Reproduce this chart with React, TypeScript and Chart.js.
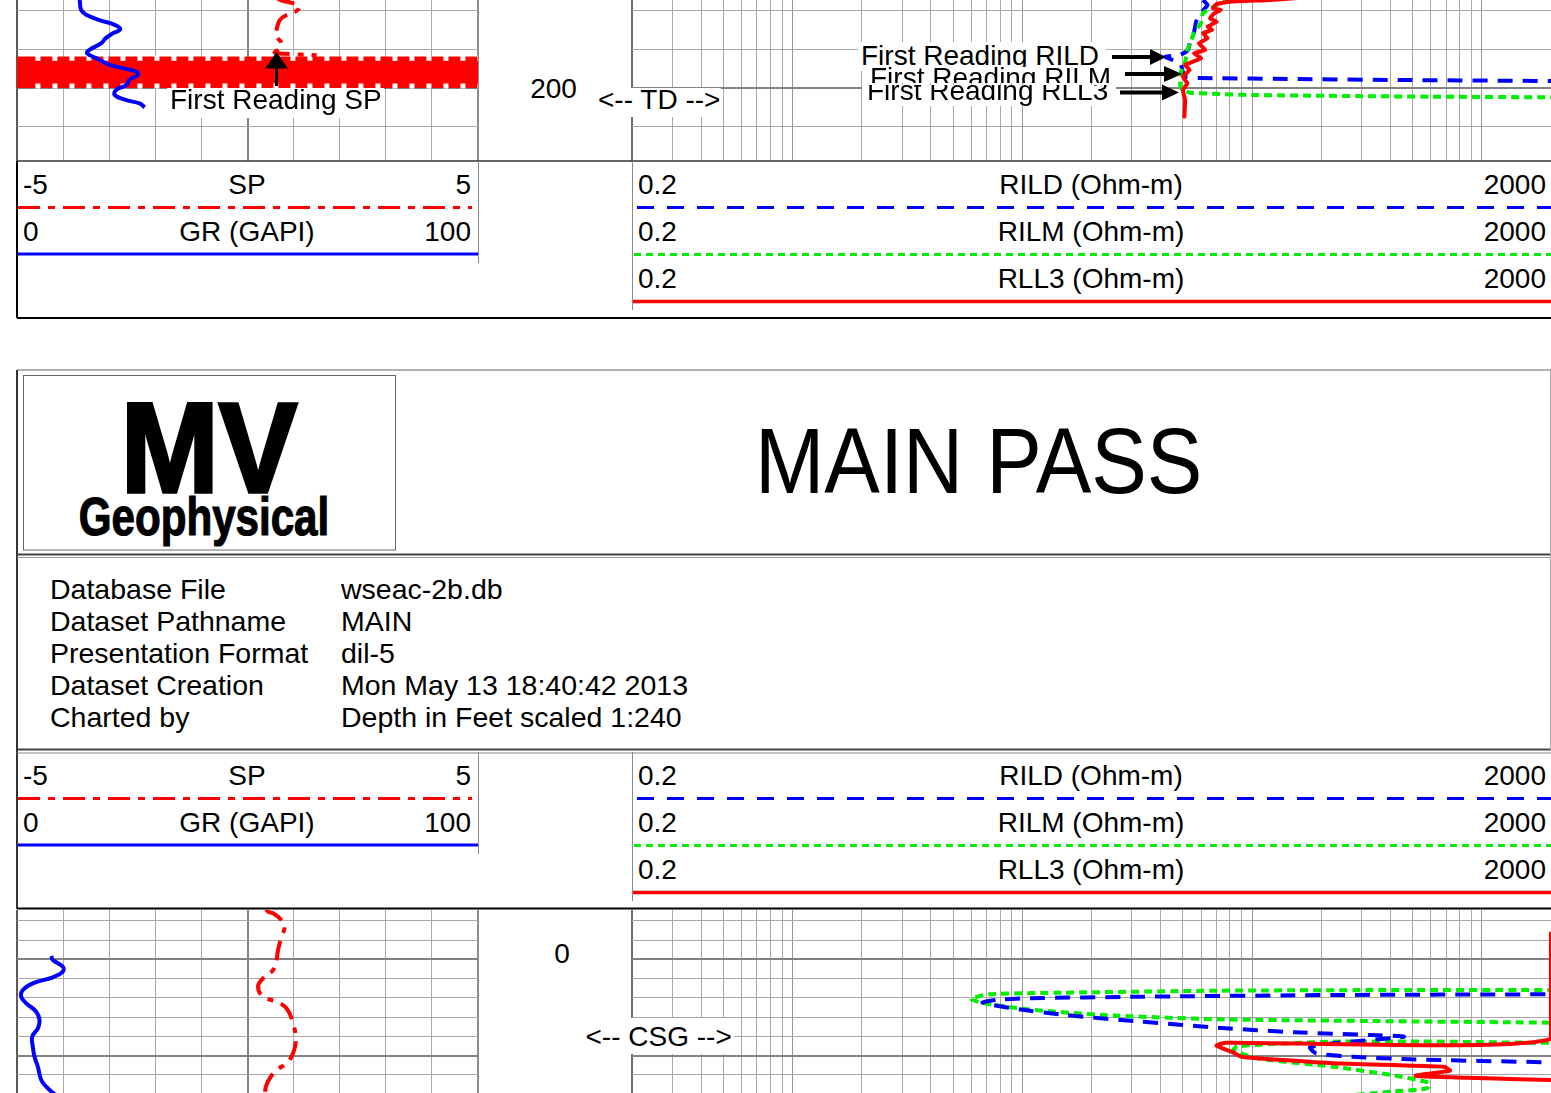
import React, { useEffect, useRef } from 'react';
import { Chart, registerables } from 'chart.js';

Chart.register(...registerables);

// ---------------- grid / tick values ----------------
const GR_GRID = [0, 10, 20, 30, 40, 50, 60, 70, 80, 90, 100];
const RES_GRID = [
  0.2, 0.3, 0.4, 0.5, 0.6, 0.7, 0.8, 0.9, 1, 2, 3, 4, 5, 6, 7, 8, 9, 10, 20, 30, 40, 50, 60, 70, 80, 90,
  100, 200, 300, 400, 500, 600, 700, 800, 900, 1000, 2000,
];
const TOP_DEPTH_GRID = [184, 192, 200, 208];
const TOP_DEPTH_MAJOR = [200];
const BOT_DEPTH_GRID = [-8, -4, 0, 4, 8, 12, 16, 20, 24];
const BOT_DEPTH_MAJOR = [0, 20];
const DEPTH_LABEL_TOP = '200';
const DEPTH_LABEL_BOT = '0';

// ---------------- header / info text ----------------
const TRACK1_CURVES = ['SP', 'GR (GAPI)'];
const TRACK1_MIN = ['-5', '0'];
const TRACK1_MAX = ['5', '100'];
const TRACK2_CURVES = ['RILD (Ohm-m)', 'RILM (Ohm-m)', 'RLL3 (Ohm-m)'];
const TRACK2_MIN = ['0.2', '0.2', '0.2'];
const TRACK2_MAX = ['2000', '2000', '2000'];
const INFO_LABELS = ['Database File', 'Dataset Pathname', 'Presentation Format', 'Dataset Creation', 'Charted by'];
const INFO_VALUES = ['wseac-2b.db', 'MAIN', 'dil-5', 'Mon May 13 18:40:42 2013', 'Depth in Feet scaled 1:240'];

// ---------------- data: tail section (TD, ~200 ft) ----------------
const GR_TOP_DEPTH = [181.0, 181.74, 183.8, 184.85, 185.9, 186.9, 187.8, 188.7, 189.7, 190.7, 192.1, 192.8, 193.8, 195.2, 196.6, 197.3, 198.3, 199.4, 200.4, 201.45, 202.5, 203.2, 204.0];
const GR_TOP_API = [13.3, 13.6, 13.9, 15.1, 17.9, 21.2, 22.4, 20.7, 19.2, 18.3, 15.7, 15.2, 17.2, 20.1, 25.9, 26.2, 24.4, 23.7, 21.5, 21.2, 23.7, 26.6, 27.7];

const SP_TOP_DEPTH = [181.0, 181.74, 182.4, 183.25, 184.2, 184.85, 185.9, 187.97, 189.35, 190.7, 191.97, 192.67, 192.95, 193.2];
const SP_TOP_MV = [0.62, 0.7, 0.98, 1.13, 1.03, 0.85, 0.7, 0.63, 0.63, 0.74, 0.67, 0.59, 0.95, 1.5];

// first-reading SP noise band (full-scale swings) and the gaps of its dash pattern at the edges
const SP_BAND_DEPTH = [193.57, 193.57, 199.9, 199.9];
const SP_BAND_MV = [-5, 5, 5, -5];
const SP_BAND_GAP_TOP_DEPTH = [193.85, 193.85];
const SP_BAND_GAP_BOT_DEPTH = [199.6, 199.6];
const SP_BAND_GAP_MV = [-4.6, 5];

const RLL3_TOP_DEPTH = [181.3, 181.74, 182.09, 182.57, 183.46, 183.81, 184.5, 185.54, 186.24, 187.28, 187.96, 188.65, 189.69, 190.72, 192.11, 192.8, 193.84, 195.23, 196.26, 197.65, 199.02, 200.41, 202.49, 206.28];
const RLL3_TOP_OHMM = [160, 119.7, 80.1, 70.1, 67.6, 73.2, 68.3, 65.6, 70.1, 64.0, 66.9, 61.2, 64.0, 58.6, 62.6, 55.9, 59.9, 51.1, 53.5, 50.0, 52.3, 50.0, 51.1, 50.7];

const RILD_TOP_DEPTH = [181.74, 182.78, 184.85, 186.3, 188.38, 190.45, 192.11, 193.15, 193.57, 194.81, 196.68, 197.71, 197.92, 198.13, 198.34, 198.55, 198.6];
const RILD_TOP_OHMM = [61.2, 64.0, 58.8, 57.0, 55.9, 53.7, 52.6, 48.6, 41.8, 48.6, 50.0, 51.1, 59.3, 161.7, 440, 2000, 4000];

const RILM_TOP_DEPTH = [181.3, 184.44, 186.51, 188.59, 190.66, 192.11, 194.6, 196.68, 198.96, 200.0, 200.97, 201.45, 201.8, 201.93, 202.0];
const RILM_TOP_OHMM = [80, 61.2, 59.9, 55.9, 53.7, 52.3, 51.1, 49.0, 48.6, 49.0, 53.7, 99.9, 601, 2000, 4000];

// ---------------- data: main pass top (CSG, ~0 ft) ----------------
const GR_BOT_DEPTH = [-0.68, 0.15, 1.54, 2.57, 3.73, 4.98, 6.37, 7.76, 9.13, 10.87, 12.59, 14.32, 16.06, 18.13, 20.2, 22.28, 25.04, 26.43, 27.68, 28.5];
const GR_BOT_API = [7.43, 7.77, 9.95, 9.95, 7.77, 3.43, 1.26, 0.91, 2.0, 4.17, 4.89, 4.52, 3.3, 3.43, 3.8, 4.52, 5.26, 6.34, 7.77, 9.0];

const SP_BOT_DEPTH = [-10.5, -9.88, -9.54, -8.15, -6.76, -4.69, -1.93, 0.15, 2.22, 3.94, 5.68, 7.76, 8.8, 10.17, 13.28, 16.74, 19.5, 21.58, 22.97, 24.69, 26.08, 27.68, 28.5];
const SP_BOT_MV = [0.4, 0.446, 0.555, 0.737, 0.809, 0.737, 0.663, 0.629, 0.555, 0.338, 0.229, 0.338, 0.629, 0.846, 0.989, 1.048, 0.989, 0.846, 0.629, 0.483, 0.411, 0.375, 0.36];

const RLL3_BOT_DEPTH = [-5.73, 16.5, 17.3, 17.93, 19.17, 20.2, 21.58, 22.28, 23.1, 24.15, 24.69, 25.04, 25.3];
const RLL3_BOT_OHMM = [2000, 2000, 76.9, 69.96, 81.5, 89.5, 225, 684, 727, 515, 1049, 2000, 4000];

const RILM_BOT_DEPTH = [6.2, 6.37, 6.37, 6.51, 6.93, 7.26, 8.24, 9.13, 10.37, 11.56, 12.45, 12.8, 13.15, 13.3, 17.0, 17.05, 17.1, 17.99, 18.82, 20.54, 22.28, 24.0, 25.6, 26.76, 27.47, 28.5];
const RILM_BOT_OHMM = [4000, 2000, 487, 71.1, 15.3, 7.09, 5.98, 6.84, 10.45, 22.4, 71.1, 331, 2000, 4000, 4000, 538, 225, 86.4, 83.1, 104.6, 225, 402, 589, 577, 402, 225];

const RILD_BOT_DEPTH = [7.2, 7.26, 7.41, 7.76, 8.09, 8.44, 9.0, 10.37, 11.56, 12.95, 14.19, 15.15, 15.71, 16.06, 17.43, 18.3, 19.5, 20.2, 20.75, 21.37, 21.5];
const RILD_BOT_OHMM = [4000, 2000, 225, 33.0, 10.45, 7.68, 6.71, 9.67, 15.3, 33.0, 71.1, 153.7, 331, 458, 225, 178.7, 189.8, 273.6, 487, 2000, 4000];

// ---------------- styles ----------------
type CurveStyle = { color: string; width: number; dash?: number[]; tension?: number; fill?: boolean };
const RED = '#ff0000';
const BLUE = '#0000ff';
const GREEN = '#00ee00';
const STYLE_GR: CurveStyle = { color: BLUE, width: 4, tension: 0.4 };
const STYLE_SP: CurveStyle = { color: RED, width: 4, dash: [20, 8, 6, 8], tension: 0.4 };
const STYLE_SP_BAND: CurveStyle = { color: RED, width: 1, tension: 0, fill: true };
const STYLE_SP_GAP_TOP: CurveStyle = { color: '#ffffff', width: 5, dash: [5, 12], tension: 0 };
const STYLE_SP_GAP_BOT: CurveStyle = { color: '#ffffff', width: 5, dash: [5, 12], tension: 0 };
const STYLE_RILD: CurveStyle = { color: BLUE, width: 4, dash: [15, 10], tension: 0.15 };
const STYLE_RILM: CurveStyle = { color: GREEN, width: 4, dash: [8, 5], tension: 0.15 };
const STYLE_RLL3: CurveStyle = { color: RED, width: 4, tension: 0.1 };

const GRID_MINOR = '#a9a9a9';
const GRID_MAJOR = '#828282';
const PAD = 4;
const FONT = "'Liberation Sans', Arial, Helvetica, sans-serif";
const BASE = 0.8465; // baseline offset (em) for line-height = 1em, Liberation Sans

type CurveDef = { xs: number[]; ds: number[]; axis: string; style: CurveStyle };

function depthScale(min: number, max: number, grid: number[], major: number[]) {
  return {
    axis: 'y',
    type: 'linear',
    position: 'left',
    reverse: true,
    min,
    max,
    ticks: { display: false },
    border: { display: false },
    grid: {
      drawTicks: false,
      color: (c: any) => (major.includes(c.tick?.value) ? GRID_MAJOR : GRID_MINOR),
      lineWidth: (c: any) => (major.includes(c.tick?.value) ? 2 : 1),
    },
    afterBuildTicks: (s: any) => {
      s.ticks = grid.map((v) => ({ value: v }));
    },
  };
}

function linearScales() {
  return {
    gr: {
      axis: 'x',
      type: 'linear',
      position: 'bottom',
      min: 0,
      max: 100,
      ticks: { display: false },
      border: { display: false },
      grid: {
        drawTicks: false,
        color: (c: any) => {
          const v = c.tick?.value;
          if (v === 0) return '#5a5a5a';
          if (v === 50) return '#858585';
          if (v === 100) return '#8c8c8c';
          return GRID_MINOR;
        },
        lineWidth: (c: any) => {
          const v = c.tick?.value;
          return v === 0 || v === 50 || v === 100 ? 2 : 1;
        },
      },
      afterBuildTicks: (s: any) => {
        s.ticks = GR_GRID.map((v) => ({ value: v }));
      },
    },
    sp: { axis: 'x', type: 'linear', display: false, min: -5, max: 5 },
  };
}

function logScales() {
  return {
    res: {
      axis: 'x',
      type: 'logarithmic',
      position: 'bottom',
      min: 0.2,
      max: 2000,
      ticks: { display: false },
      border: { display: false },
      grid: {
        drawTicks: false,
        color: (c: any) => {
          const v = c.tick?.value;
          if (v === 0.2) return '#6a6a6a';
          if (v === 1 || v === 10 || v === 100 || v === 1000) return '#999999';
          return GRID_MINOR;
        },
        lineWidth: (c: any) => (c.tick?.value === 0.2 ? 2 : 1),
      },
      afterBuildTicks: (s: any) => {
        s.ticks = RES_GRID.map((v) => ({ value: v }));
      },
    },
  };
}

type TrackProps = {
  left: number;
  top: number;
  width: number;
  height: number;
  kind: 'lin' | 'log';
  depthMin: number;
  depthMax: number;
  depthGrid: number[];
  depthMajor: number[];
  curves: CurveDef[];
};

function Track({ left, top, width, height, kind, depthMin, depthMax, depthGrid, depthMajor, curves }: TrackProps) {
  const ref = useRef<HTMLCanvasElement | null>(null);
  useEffect(() => {
    const canvas = ref.current;
    if (!canvas) return;
    const xScales: any = kind === 'lin' ? linearScales() : logScales();
    const chart = new Chart(canvas, {
      type: 'scatter',
      data: {
        datasets: curves.map((c) => ({
          data: c.xs.map((x, i) => ({ x, y: c.ds[i] })),
          xAxisID: c.axis,
          yAxisID: 'depth',
          showLine: true,
          pointRadius: 0,
          pointHoverRadius: 0,
          borderColor: c.style.color,
          backgroundColor: c.style.color,
          borderWidth: c.style.width,
          borderDash: c.style.dash || [],
          tension: c.style.tension ?? 0,
          fill: c.style.fill ? 'shape' : false,
          borderCapStyle: 'butt',
          borderJoinStyle: 'round',
        })) as any,
      },
      options: {
        animation: false,
        responsive: false,
        devicePixelRatio: 1,
        events: [],
        layout: { padding: PAD },
        plugins: { legend: { display: false }, tooltip: { enabled: false } },
        scales: { ...xScales, depth: depthScale(depthMin, depthMax, depthGrid, depthMajor) } as any,
      },
    });
    return () => chart.destroy();
  }, []);
  return (
    <canvas
      ref={ref}
      width={width + 2 * PAD}
      height={height + 2 * PAD}
      style={{ position: 'absolute', left: left - PAD, top: top - PAD, width: width + 2 * PAD, height: height + 2 * PAD }}
    />
  );
}

type TProps = {
  x: number;
  y: number;
  size?: number;
  align?: 'left' | 'center' | 'right';
  sx?: number;
  weight?: number;
  stroke?: number;
  children: React.ReactNode;
};

function T({ x, y, size = 28, align = 'left', sx = 1, weight = 400, stroke = 0, children }: TProps) {
  const tx = align === 'center' ? '-50%' : align === 'right' ? '-100%' : '0px';
  const origin = align === 'center' ? '50% 50%' : align === 'right' ? '100% 50%' : '0% 50%';
  return (
    <div
      style={{
        position: 'absolute',
        left: x,
        top: y - BASE * size,
        fontSize: size,
        lineHeight: `${size}px`,
        fontWeight: weight,
        whiteSpace: 'nowrap',
        color: '#000',
        transform: `translateX(${tx}) scaleX(${sx})`,
        transformOrigin: origin,
        WebkitTextStroke: stroke ? `${stroke}px #000` : undefined,
      }}
    >
      {children}
    </div>
  );
}

function Box({ x, y, w, h, children }: { x: number; y: number; w: number; h: number; children: React.ReactNode }) {
  return (
    <div style={{ position: 'absolute', left: x, top: y, width: w, height: h, background: '#fff', overflow: 'hidden' }}>
      {children}
    </div>
  );
}

function HeaderText({ dy }: { dy: number }) {
  const rows1 = [194.5, 241.5];
  const rows2 = [194.5, 241.5, 288.5];
  return (
    <>
      {TRACK1_CURVES.map((name, i) => (
        <React.Fragment key={'t1' + i}>
          <T x={23} y={rows1[i] + dy}>{TRACK1_MIN[i]}</T>
          <T x={247} y={rows1[i] + dy} align="center">{name}</T>
          <T x={471} y={rows1[i] + dy} align="right">{TRACK1_MAX[i]}</T>
        </React.Fragment>
      ))}
      {TRACK2_CURVES.map((name, i) => (
        <React.Fragment key={'t2' + i}>
          <T x={638} y={rows2[i] + dy}>{TRACK2_MIN[i]}</T>
          <T x={1091} y={rows2[i] + dy} align="center">{name}</T>
          <T x={1546} y={rows2[i] + dy} align="right">{TRACK2_MAX[i]}</T>
        </React.Fragment>
      ))}
    </>
  );
}

function HeaderLines({ dy }: { dy: number }) {
  return (
    <>
      <line x1={18} x2={472} y1={207.5 + dy} y2={207.5 + dy} stroke={RED} strokeWidth={3} strokeDasharray="22 8 7 8" />
      <line x1={18} x2={478} y1={254 + dy} y2={254 + dy} stroke={BLUE} strokeWidth={3} />
      <line x1={637} x2={1551} y1={207.5 + dy} y2={207.5 + dy} stroke={BLUE} strokeWidth={3} strokeDasharray="17 13" />
      <line x1={634} x2={1551} y1={254.5 + dy} y2={254.5 + dy} stroke={GREEN} strokeWidth={3} strokeDasharray="7 5" />
      <line x1={632} x2={1551} y1={301.5 + dy} y2={301.5 + dy} stroke={RED} strokeWidth={3.5} />
      <line x1={478.5} x2={478.5} y1={161 + dy} y2={263 + dy} stroke="#8a8a8a" strokeWidth={1} />
      <line x1={632.5} x2={632.5} y1={161 + dy} y2={310 + dy} stroke="#8a8a8a" strokeWidth={1} />
    </>
  );
}

const PX_PER_FT = 4.82;
const TOP_DMIN = 181.74;
const TOP_H = 161;
const BOT_TOP = 910;
const BOT_H = 183;
const BOT_DMIN = (BOT_TOP - 959.3) / PX_PER_FT;

export default function App() {
  const topTrack1: CurveDef[] = [
    { xs: GR_TOP_API, ds: GR_TOP_DEPTH, axis: 'gr', style: STYLE_GR },
    { xs: SP_TOP_MV, ds: SP_TOP_DEPTH, axis: 'sp', style: STYLE_SP },
    { xs: SP_BAND_GAP_MV, ds: SP_BAND_GAP_TOP_DEPTH, axis: 'sp', style: STYLE_SP_GAP_TOP },
    { xs: SP_BAND_GAP_MV, ds: SP_BAND_GAP_BOT_DEPTH, axis: 'sp', style: STYLE_SP_GAP_BOT },
    { xs: SP_BAND_MV, ds: SP_BAND_DEPTH, axis: 'sp', style: STYLE_SP_BAND },
  ];
  const topTrack2: CurveDef[] = [
    { xs: RLL3_TOP_OHMM, ds: RLL3_TOP_DEPTH, axis: 'res', style: STYLE_RLL3 },
    { xs: RILM_TOP_OHMM, ds: RILM_TOP_DEPTH, axis: 'res', style: STYLE_RILM },
    { xs: RILD_TOP_OHMM, ds: RILD_TOP_DEPTH, axis: 'res', style: STYLE_RILD },
  ];
  const botTrack1: CurveDef[] = [
    { xs: GR_BOT_API, ds: GR_BOT_DEPTH, axis: 'gr', style: STYLE_GR },
    { xs: SP_BOT_MV, ds: SP_BOT_DEPTH, axis: 'sp', style: STYLE_SP },
  ];
  const botTrack2: CurveDef[] = [
    { xs: RLL3_BOT_OHMM, ds: RLL3_BOT_DEPTH, axis: 'res', style: { ...STYLE_RLL3, tension: 0.15 } },
    { xs: RILD_BOT_OHMM, ds: RILD_BOT_DEPTH, axis: 'res', style: { ...STYLE_RILD, tension: 0.2 } },
    { xs: RILM_BOT_OHMM, ds: RILM_BOT_DEPTH, axis: 'res', style: { ...STYLE_RILM, tension: 0.2 } },
  ];

  return (
    <div
      style={{
        position: 'fixed',
        left: 0,
        top: 0,
        width: 1551,
        height: 1093,
        overflow: 'hidden',
        background: '#fff',
        fontFamily: FONT,
      }}
    >
      <Track left={17} top={0} width={461} height={TOP_H} kind="lin" depthMin={TOP_DMIN} depthMax={TOP_DMIN + TOP_H / PX_PER_FT} depthGrid={TOP_DEPTH_GRID} depthMajor={TOP_DEPTH_MAJOR} curves={topTrack1} />
      <Track left={632} top={0} width={919} height={TOP_H} kind="log" depthMin={TOP_DMIN} depthMax={TOP_DMIN + TOP_H / PX_PER_FT} depthGrid={TOP_DEPTH_GRID} depthMajor={TOP_DEPTH_MAJOR} curves={topTrack2} />
      <Track left={17} top={BOT_TOP} width={461} height={BOT_H} kind="lin" depthMin={BOT_DMIN} depthMax={BOT_DMIN + BOT_H / PX_PER_FT} depthGrid={BOT_DEPTH_GRID} depthMajor={BOT_DEPTH_MAJOR} curves={botTrack1} />
      <Track left={632} top={BOT_TOP} width={919} height={BOT_H} kind="log" depthMin={BOT_DMIN} depthMax={BOT_DMIN + BOT_H / PX_PER_FT} depthGrid={BOT_DEPTH_GRID} depthMajor={BOT_DEPTH_MAJOR} curves={botTrack2} />

      {/* depth track labels */}
      <T x={553.5} y={98.3} align="center">{DEPTH_LABEL_TOP}</T>
      <T x={562} y={964} align="center">{DEPTH_LABEL_BOT}</T>

      {/* annotation boxes */}
      <Box x={595} y={88} w={126} h={29}>
        <T x={3} y={22}>{'<-- TD -->'}</T>
      </Box>
      <Box x={584} y={1018} w={150} h={36}>
        <T x={1.5} y={28.7}>{'<-- CSG -->'}</T>
      </Box>
      <Box x={167} y={87.5} w={217} h={30}>
        <T x={3} y={22.5}>First Reading SP</T>
      </Box>
      <Box x={858} y={42} w={248} h={29}>
        <T x={3} y={23.5}>First Reading RILD</T>
      </Box>
      <Box x={866} y={67} w={252} h={16}>
        <T x={4} y={21}>First Reading RILM</T>
      </Box>
      <Box x={862} y={84.5} w={254} h={21}>
        <T x={5} y={16}>First Reading RLL3</T>
      </Box>

      {/* headers */}
      <HeaderText dy={0} />
      <HeaderText dy={591} />

      {/* logo + title */}
      <T x={209} y={492} size={128} weight={700} sx={0.92} stroke={3.5} align="center">MV</T>
      <T x={204} y={535} size={54} weight={700} sx={0.78} stroke={1.2} align="center">Geophysical</T>
      <T x={755} y={493.3} size={92} sx={0.905}>MAIN PASS</T>

      {/* info table */}
      {INFO_LABELS.map((lab, i) => (
        <React.Fragment key={'info' + i}>
          <T x={50} y={599 + i * 32} size={28.5}>{lab}</T>
          <T x={341} y={599 + i * 32} size={28.5}>{INFO_VALUES[i]}</T>
        </React.Fragment>
      ))}

      <svg width={1551} height={1093} style={{ position: 'absolute', left: 0, top: 0 }}>
        {/* frames */}
        <line x1={17} x2={1551} y1={161} y2={161} stroke="#333" strokeWidth={1.5} />
        <line x1={17} x2={17} y1={161} y2={318} stroke="#000" strokeWidth={2} />
        <line x1={17} x2={1551} y1={318} y2={318} stroke="#000" strokeWidth={2} />
        <line x1={17} x2={1551} y1={370} y2={370} stroke="#999" strokeWidth={1.5} />
        <line x1={17} x2={17} y1={370} y2={909} stroke="#333" strokeWidth={2} />
        <line x1={17} x2={1551} y1={554.5} y2={554.5} stroke="#444" strokeWidth={2} />
        <line x1={17} x2={1551} y1={557.5} y2={557.5} stroke="#999" strokeWidth={1} />
        <line x1={17} x2={1551} y1={749.5} y2={749.5} stroke="#444" strokeWidth={2} />
        <line x1={17} x2={1551} y1={753} y2={753} stroke="#888" strokeWidth={1} />
        <line x1={17} x2={1551} y1={908.5} y2={908.5} stroke="#000" strokeWidth={2} />
        <line x1={1550.5} x2={1550.5} y1={370} y2={750} stroke="#aaa" strokeWidth={1} />
        <rect x={23.5} y={375.5} width={372} height={174.5} fill="none" stroke="#666" strokeWidth={1} />

        <HeaderLines dy={0} />
        <HeaderLines dy={591} />

        {/* arrows */}
        <line x1={1112} x2={1152} y1={57} y2={57} stroke="#000" strokeWidth={4} />
        <polygon points="1150,49 1166,57 1150,65" fill="#000" />
        <line x1={1125} x2={1166} y1={74} y2={74} stroke="#000" strokeWidth={4} />
        <polygon points="1164,66 1182,74 1164,82" fill="#000" />
        <line x1={1120} x2={1164} y1={92.5} y2={92.5} stroke="#000" strokeWidth={4} />
        <polygon points="1162,84.5 1179,92.5 1162,100.5" fill="#000" />
        <line x1={276.5} x2={276.5} y1={86} y2={66} stroke="#000" strokeWidth={3} />
        <polygon points="265,68.5 276.5,52 288,68.5" fill="#000" />
      </svg>
    </div>
  );
}
